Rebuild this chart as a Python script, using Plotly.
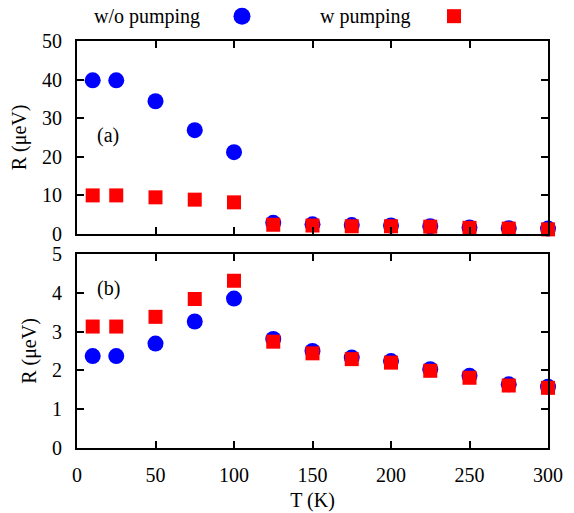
import plotly.graph_objects as go

T = [10, 25, 50, 75, 100, 125, 150, 175, 200, 225, 250, 275, 300]
top_wo = [39.8, 39.8, 34.4, 26.9, 21.2, 2.9, 2.5, 2.3, 2.2, 2.0, 1.7, 1.5, 1.4]
top_w = [10.0, 10.0, 9.5, 8.9, 8.2, 2.4, 2.2, 2.0, 2.0, 1.9, 1.6, 1.4, 1.2]
bot_wo = [2.37, 2.37, 2.69, 3.26, 3.85, 2.81, 2.50, 2.33, 2.24, 2.03, 1.86, 1.64, 1.58]
bot_w = [3.13, 3.13, 3.38, 3.84, 4.31, 2.74, 2.44, 2.29, 2.20, 1.99, 1.81, 1.61, 1.55]
x_ticks = [0, 50, 100, 150, 200, 250, 300]
top_yticks = [0, 10, 20, 30, 40, 50]
bot_yticks = [0, 1, 2, 3, 4, 5]
labels = ["w/o pumping", "w pumping"]

BLUE = "#0000ff"
RED = "#ff0000"
FONT = "Liberation Serif"

fig = go.Figure()
fig.add_trace(go.Scatter(x=T, y=top_wo, mode="markers", xaxis="x2", yaxis="y2",
                         marker=dict(symbol="circle", size=16, color=BLUE),
                         cliponaxis=False, showlegend=False))
fig.add_trace(go.Scatter(x=T, y=top_w, mode="markers", xaxis="x2", yaxis="y2",
                         marker=dict(symbol="square", size=14, color=RED),
                         cliponaxis=False, showlegend=False))
fig.add_trace(go.Scatter(x=T, y=bot_wo, mode="markers", xaxis="x", yaxis="y",
                         marker=dict(symbol="circle", size=16, color=BLUE),
                         cliponaxis=False, showlegend=False))
fig.add_trace(go.Scatter(x=T, y=bot_w, mode="markers", xaxis="x", yaxis="y",
                         marker=dict(symbol="square", size=14, color=RED),
                         cliponaxis=False, showlegend=False))

axcommon = dict(showline=True, linewidth=2, linecolor="black", mirror="ticks",
                ticks="inside", ticklen=7, tickwidth=1.5, tickcolor="black",
                showgrid=False, zeroline=False, automargin=False,
                tickfont=dict(family=FONT, size=20, color="black"))

fig.update_layout(
    width=574, height=513,
    margin=dict(l=77, r=26, t=41, b=65),
    paper_bgcolor="white", plot_bgcolor="white",
    font=dict(family=FONT, size=20, color="black"),
    xaxis=dict(domain=[0, 1], range=[0, 300], tickvals=x_ticks, anchor="y",
               title=dict(text="T (K)", standoff=8, font=dict(family=FONT, size=20)),
               ticklabelstandoff=8, **axcommon),
    yaxis=dict(domain=[0, 0.4767], range=[0, 5], tickvals=bot_yticks, anchor="x",
               title=dict(text="R (μeV)", standoff=10, font=dict(family=FONT, size=20)),
               ticklabelstandoff=9, **axcommon),
    xaxis2=dict(domain=[0, 1], range=[0, 300], tickvals=x_ticks, anchor="y2",
                showticklabels=False, **axcommon),
    yaxis2=dict(domain=[0.5258, 1], range=[0, 50], tickvals=top_yticks, anchor="x2",
                title=dict(text="R (μeV)", standoff=10, font=dict(family=FONT, size=20)),
                ticklabelstandoff=9, **axcommon),
)

fig.add_annotation(x=20, y=25.6, xref="x2", yref="y2", text="(a)", showarrow=False,
                   font=dict(family=FONT, size=20))
fig.add_annotation(x=20, y=4.12, xref="x", yref="y", text="(b)", showarrow=False,
                   font=dict(family=FONT, size=20))

# legend drawn manually: text then symbol
fig.add_annotation(x=0.2648, y=1.061, xref="paper", yref="paper", text=labels[0],
                   showarrow=False, xanchor="right", yanchor="middle",
                   font=dict(family=FONT, size=20))
fig.add_annotation(x=0.7134, y=1.061, xref="paper", yref="paper", text=labels[1],
                   showarrow=False, xanchor="right", yanchor="middle",
                   font=dict(family=FONT, size=20))
fig.add_shape(type="circle", xref="paper", yref="paper", xsizemode="pixel", ysizemode="pixel",
              xanchor=0.3503, yanchor=1.061, x0=-8.5, x1=8.5, y0=-8.5, y1=8.5,
              fillcolor=BLUE, line=dict(width=0))
fig.add_shape(type="rect", xref="paper", yref="paper", xsizemode="pixel", ysizemode="pixel",
              xanchor=0.8004, yanchor=1.061, x0=-7, x1=7, y0=-7, y1=7,
              fillcolor=RED, line=dict(width=0))

fig.write_html("out.html")
